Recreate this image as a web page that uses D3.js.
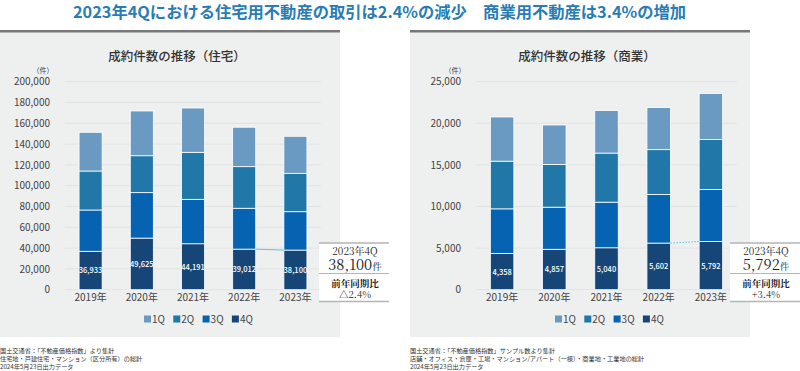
<!DOCTYPE html>
<html>
<head>
<meta charset="utf-8">
<script src="https://cdn.jsdelivr.net/npm/d3@7"></script>
<style>
  body { margin: 0; background: #fff; }
  svg text { font-family: "Noto Sans CJK JP", "Noto Sans", sans-serif; }
  .serif { font-family: "Noto Serif CJK JP", "Liberation Serif", "DejaVu Serif", serif !important; }
</style>
</head>
<body>
<svg id="chart" width="800" height="371"></svg>
<script>
// years and quarters (stack order: 4Q bottom ... 1Q top)
const years = ["2019年", "2020年", "2021年", "2022年", "2023年"];
const quarters = ["1Q", "2Q", "3Q", "4Q"];
const colors = { "1Q": "#6a9ac2", "2Q": "#2178a8", "3Q": "#0563b2", "4Q": "#164678" };

// 住宅
const res1Q = [37200, 43000, 42600, 37900, 35600];
const res2Q = [37500, 35500, 45200, 40000, 36900];
const res3Q = [39700, 43700, 42700, 39300, 36900];
const res4Q = [36933, 49625, 44191, 39012, 38100];
const resTicks = [0, 20000, 40000, 60000, 80000, 100000, 120000, 140000, 160000, 180000, 200000];

// 商業
const com1Q = [5310, 4740, 5110, 5060, 5540];
const com2Q = [5730, 5140, 5900, 5380, 5990];
const com3Q = [5360, 5060, 5480, 5850, 6260];
const com4Q = [4358, 4857, 5040, 5602, 5792];
const comTicks = [0, 5000, 10000, 15000, 20000, 25000];

const svg = d3.select("#chart");

// main headline
svg.append("text")
  .attr("x", 73).attr("y", 18)
  .attr("font-size", 16.3).attr("font-weight", 700)
  .attr("fill", "#2a7db4")
  .text("2023年4Qにおける住宅用不動産の取引は2.4%の減少　商業用不動産は3.4%の増加");

function drawPanel(opt) {
  const g = svg.append("g");

  // panel background + top rule
  g.append("rect").attr("x", opt.px).attr("y", 32).attr("width", opt.pw).attr("height", 305).attr("fill", "#eeefef");
  g.append("rect").attr("x", opt.px).attr("y", 30).attr("width", opt.pw).attr("height", 2.5).attr("fill", "#777");

  g.append("text")
    .attr("x", opt.px + opt.pw / 2 + 7).attr("y", 61)
    .attr("text-anchor", "middle").attr("font-size", 12.5).attr("font-weight", 500).attr("fill", "#333")
    .text(opt.title);

  const data = years.map((y, i) => ({
    year: y, "1Q": opt.q1[i], "2Q": opt.q2[i], "3Q": opt.q3[i], "4Q": opt.q4[i]
  }));

  const x = d3.scaleBand().domain(years).range([opt.x0, opt.x1]).paddingInner(0.55).paddingOuter(0.275);
  const y = d3.scaleLinear().domain([0, opt.max]).range([289.7, 81.7]);

  // gridlines
  g.append("g").selectAll("line").data(opt.ticks).join("line")
    .attr("x1", opt.x0).attr("x2", opt.x1)
    .attr("y1", d => y(d)).attr("y2", d => y(d))
    .attr("stroke", "#e2e4e4").attr("stroke-width", 1);

  // y axis
  const yAxis = d3.axisLeft(y).tickValues(opt.ticks).tickSize(0).tickPadding(0)
    .tickFormat(d3.format(","));
  g.append("g").attr("transform", `translate(${opt.labelX},0)`).call(yAxis)
    .call(a => a.select(".domain").remove())
    .call(a => a.selectAll("text").attr("font-size", 10).attr("fill", "#444")
      .attr("font-family", "'Noto Sans CJK JP', sans-serif"));

  g.append("text").attr("x", opt.unitX).attr("y", 72.5).attr("font-size", 7).attr("fill", "#444")
    .attr("text-anchor", "middle").text("（件）");

  // x axis
  const xAxis = d3.axisBottom(x).tickSize(0).tickPadding(0);
  g.append("g").attr("transform", "translate(0,294)").call(xAxis)
    .call(a => a.select(".domain").remove())
    .call(a => a.selectAll("text").attr("font-size", 10).attr("fill", "#444").attr("dy", "0.71em")
      .attr("font-family", "'Noto Sans CJK JP', sans-serif"));

  // stacked bars
  const stack = d3.stack().keys(["4Q", "3Q", "2Q", "1Q"]);
  const series = stack(data);
  g.append("g").selectAll("g").data(series).join("g")
    .attr("fill", s => colors[s.key])
    .selectAll("rect").data(s => s).join("rect")
    .attr("x", d => x(d.data.year))
    .attr("width", x.bandwidth())
    .attr("y", d => y(d[1]))
    .attr("height", d => y(d[0]) - y(d[1]))
    .attr("stroke", "#fff").attr("stroke-width", 0.8);

  // 4Q value labels
  g.append("g").selectAll("text").data(data).join("text")
    .attr("x", d => x(d.year) + x.bandwidth() / 2)
    .attr("y", d => y(d["4Q"] / 2) + 3)
    .attr("text-anchor", "middle").attr("font-size", 7.5).attr("font-weight", 500).attr("fill", "#fff")
    .text(d => d3.format(",")(d["4Q"]));

  // connector 2022 4Q -> 2023 4Q
  g.append("line")
    .attr("x1", x(years[3]) + x.bandwidth()).attr("y1", y(opt.q4[3]))
    .attr("x2", x(years[4])).attr("y2", y(opt.q4[4]))
    .attr("stroke", "#5cc3ee").attr("stroke-width", 1)
    .attr("stroke-dasharray", opt.dash);

  // legend
  const lg = g.append("g").selectAll("g").data(quarters).join("g")
    .attr("transform", (d, i) => `translate(${opt.legX + i * opt.legStep},319)`);
  lg.append("rect").attr("x", 0).attr("y", -3.5).attr("width", 7).attr("height", 7).attr("fill", d => colors[d]);
  lg.append("text").attr("x", 8).attr("y", 3.8).attr("font-size", 10).attr("fill", "#444").text(d => d);

  // annotation box
  const b = g.append("g");
  b.append("rect").attr("x", opt.boxX).attr("y", 243).attr("width", opt.boxW).attr("height", 58).attr("fill", "#fff");
  [[243, 1.5], [273.5, 1], [301.5, 1.5]].forEach(([ly, sw]) => {
    b.append("line").attr("x1", opt.boxX).attr("x2", opt.boxX + opt.boxW)
      .attr("y1", ly).attr("y2", ly).attr("stroke", "#b5b5b5").attr("stroke-width", sw);
  });
  const cx = opt.boxX + 36;
  b.append("text").attr("class", "serif").attr("x", cx).attr("y", 255).attr("text-anchor", "middle")
    .attr("font-size", 10).attr("fill", "#222").text("2023年4Q");
  const big = b.append("text").attr("class", "serif").attr("x", cx).attr("y", 269.5).attr("text-anchor", "middle")
    .attr("fill", "#222");
  big.append("tspan").attr("font-size", 14.5).text(d3.format(",")(opt.q4[4]));
  big.append("tspan").attr("font-size", 9.5).text("件");
  b.append("text").attr("class", "serif").attr("x", cx).attr("y", 287).attr("text-anchor", "middle")
    .attr("font-size", 9.5).attr("font-weight", 700).attr("fill", "#222").text("前年同期比");
  b.append("text").attr("class", "serif").attr("x", cx).attr("y", 298).attr("text-anchor", "middle")
    .attr("font-size", 9.5).attr("fill", "#222").text(opt.change);

  // footnotes
  g.append("g").selectAll("text").data(opt.notes).join("text")
    .attr("x", opt.px).attr("y", (d, i) => 352.5 + i * 8)
    .attr("font-size", 6.2).attr("fill", "#333").text(d => d);
}

drawPanel({
  px: 0, pw: 340, title: "成約件数の推移（住宅）",
  q1: res1Q, q2: res2Q, q3: res3Q, q4: res4Q, ticks: resTicks, max: 200000,
  x0: 65, x1: 321, labelX: 50, unitX: 43,
  legX: 144, legStep: 29.3, dash: null,
  boxX: 319, boxW: 70, change: "△2.4%",
  notes: ["国土交通省：「不動産価格指数」より集計", "住宅地・戸建住宅・マンション（区分所有）の総計", "2024年5月23日出力データ"]
});

drawPanel({
  px: 410, pw: 340, title: "成約件数の推移（商業）",
  q1: com1Q, q2: com2Q, q3: com3Q, q4: com4Q, ticks: comTicks, max: 25000,
  x0: 476, x1: 737, labelX: 461, unitX: 455,
  legX: 555, legStep: 29.3, dash: "1.5,1.5",
  boxX: 730, boxW: 70, change: "+3.4%",
  notes: ["国土交通省：「不動産価格指数」サンプル数より集計", "店舗・オフィス・倉庫・工場・マンション/アパート（一棟）・商業地・工業地の総計", "2024年5月23日出力データ"]
});
</script>
</body>
</html>
